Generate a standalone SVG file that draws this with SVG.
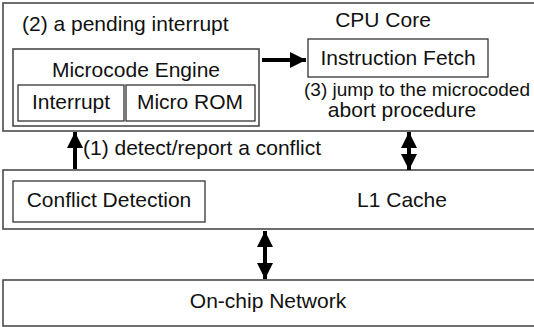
<svg xmlns="http://www.w3.org/2000/svg" width="534" height="327" viewBox="0 0 534 327">
<style>
.box{fill:#fff;stroke:#4a4a4a;stroke-width:1.6}
.ibox{fill:#fff;stroke:#333;stroke-width:1.3}
text{font-family:"Liberation Sans",Arial,sans-serif;font-size:21px;fill:#111}
.m{text-anchor:middle}
.s{font-size:19px}
.ln{stroke:#000;stroke-width:4;fill:none}
</style>
<defs>
<marker id="ah" markerUnits="userSpaceOnUse" markerWidth="18" markerHeight="18" refX="16" refY="8" orient="auto-start-reverse" viewBox="0 0 18 16">
<path d="M0,0 L16,8 L0,16 Z" fill="#000"/>
</marker>
</defs>
<g id="cpu-core">
<rect class="box" x="3" y="3" width="540" height="128"/>
<text x="22" y="31">(2) a pending interrupt</text>
<text class="m" x="383" y="27">CPU Core</text>
<text class="s" x="304" y="96">(3) jump to the microcoded</text>
<text class="m" x="402" y="117">abort procedure</text>
</g>
<g id="microcode-engine">
<rect class="box" x="13" y="49" width="246" height="77"/>
<text class="m" x="136" y="77">Microcode Engine</text>
</g>
<g id="interrupt">
<rect class="ibox" x="18" y="85" width="106" height="36"/>
<text class="m" x="71" y="109">Interrupt</text>
</g>
<g id="micro-rom">
<rect class="ibox" x="126" y="85" width="129" height="36"/>
<text class="m" x="190" y="109">Micro ROM</text>
</g>
<g id="instruction-fetch">
<rect class="ibox" x="308" y="39" width="180" height="38"/>
<text class="m" x="398" y="65">Instruction Fetch</text>
</g>
<g id="l1-cache">
<rect class="box" x="3" y="170" width="540" height="59"/>
<text class="m" x="402" y="207">L1 Cache</text>
</g>
<g id="conflict-detection">
<rect class="ibox" x="13" y="181" width="192" height="41"/>
<text class="m" x="109" y="207">Conflict Detection</text>
</g>
<g id="on-chip-network">
<rect class="box" x="3" y="280" width="540" height="46"/>
<text class="m" x="268" y="308">On-chip Network</text>
</g>
<g id="connectors">
<line class="ln" x1="262" y1="60" x2="306" y2="60" marker-end="url(#ah)"/>
<line class="ln" x1="75" y1="169" x2="75" y2="132" marker-end="url(#ah)"/>
<text x="83" y="155">(1) detect/report a conflict</text>
<line class="ln" x1="409" y1="132" x2="409" y2="170" marker-start="url(#ah)" marker-end="url(#ah)"/>
<line class="ln" x1="265" y1="231" x2="265" y2="279" marker-start="url(#ah)" marker-end="url(#ah)"/>
</g>
</svg>
